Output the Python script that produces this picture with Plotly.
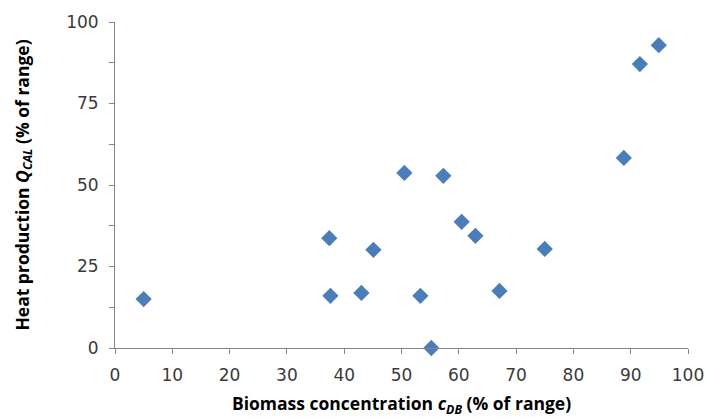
import plotly.graph_objects as go

# Data
biomass_conc = [5.0, 37.4, 37.6, 43.0, 45.1, 50.5, 53.3, 55.2, 57.3, 60.5, 62.9, 67.1, 75.0, 88.8, 91.6, 94.9]
heat_prod = [15.0, 33.7, 16.0, 16.9, 30.1, 53.7, 16.0, 0.0, 52.8, 38.7, 34.4, 17.5, 30.4, 58.3, 87.1, 92.9]

x_ticks = [0, 10, 20, 30, 40, 50, 60, 70, 80, 90, 100]
y_ticks = [0, 25, 50, 75, 100]

axis_color = "#868686"
tick_font = dict(family="DejaVu Sans, Verdana, sans-serif", size=17, color="#3a3a3a")
title_font = dict(family="Open Sans, Lato, sans-serif", size=17.5, color="#000000")

fig = go.Figure()
fig.add_trace(go.Scatter(
    x=biomass_conc, y=heat_prod, mode="markers",
    marker=dict(symbol="diamond", size=12.5, color="#4A7EBB", line=dict(width=0)),
    showlegend=False, cliponaxis=False,
))

fig.update_layout(
    width=707, height=418,
    margin=dict(l=115, r=19, t=22, b=70),
    paper_bgcolor="white", plot_bgcolor="white",
    xaxis=dict(
        range=[0, 100], tickmode="array", tickvals=x_ticks, ticktext=[str(v) for v in x_ticks],
        showgrid=False, zeroline=False, showline=True, linecolor=axis_color, linewidth=1,
        ticks="outside", ticklen=5, tickcolor=axis_color, tickfont=tick_font,
        ticklabelstandoff=7, automargin=False,
        title=dict(text="<b>Biomass concentration <i>c</i><sub><i>DB</i></sub> (% of range)</b>",
                   font=title_font, standoff=23),
    ),
    yaxis=dict(
        range=[0, 100], tickmode="array", tickvals=y_ticks, ticktext=[str(v) for v in y_ticks],
        showgrid=False, zeroline=False, showline=True, linecolor=axis_color, linewidth=1,
        ticks="outside", ticklen=5, tickcolor=axis_color, tickfont=tick_font,
        ticklabelstandoff=7, automargin=False,
        minor=dict(dtick=12.5, tick0=0, ticks="outside", ticklen=5, tickcolor=axis_color, showgrid=False),
        title=dict(text="<b>Heat production <i>Q</i><sub><i>CAL</i></sub> (% of range)</b>",
                   font=title_font, standoff=32),
    ),
)

fig.write_html("out.html")
